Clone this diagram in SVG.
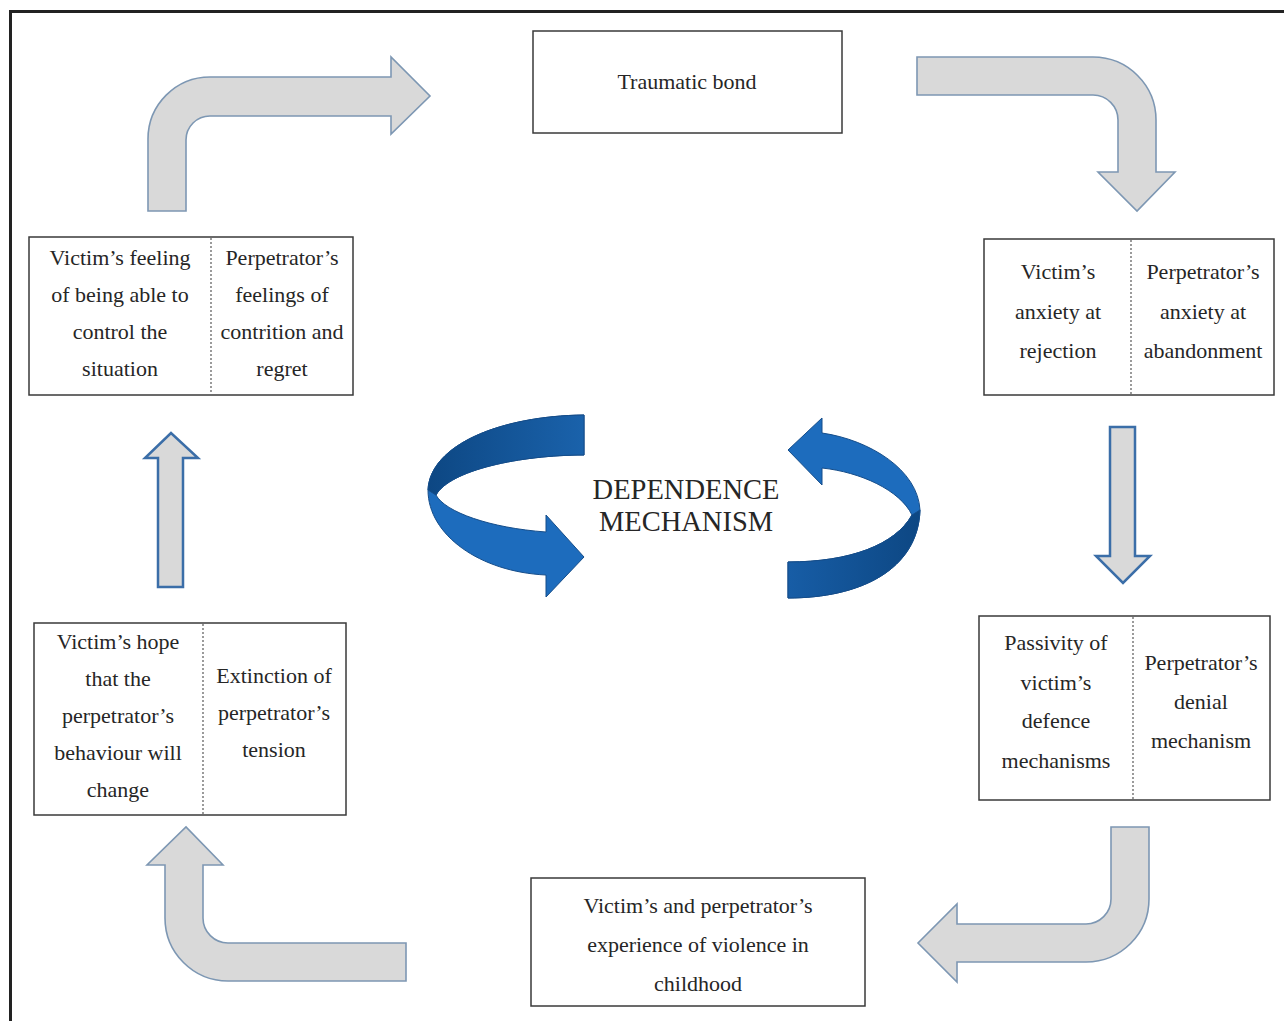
<svg xmlns="http://www.w3.org/2000/svg" width="1284" height="1021" viewBox="0 0 1284 1021">
<defs>
<style>
.t{font-family:"Liberation Serif","Times New Roman",serif;font-size:22px;fill:#262626;text-anchor:middle}
.big{font-size:28.5px}
.box{fill:#fff;stroke:#3a3a3a;stroke-width:1.5}
.div{stroke:#666;stroke-width:1.3;stroke-dasharray:2 2}
.ga{fill:#d9d9d9;stroke:#7d97b3;stroke-width:1.6;stroke-linejoin:miter}
.sa{fill:#d9d9d9;stroke:#3b6ea8;stroke-width:2.5}
.blue{fill:#1d6cbd;stroke:#154d8a;stroke-width:1}
</style>
<linearGradient id="gL" x1="0" y1="0" x2="1" y2="0">
<stop offset="0" stop-color="#0d4783"/>
<stop offset="1" stop-color="#1a62ab"/>
</linearGradient>
<linearGradient id="gR" x1="0" y1="0" x2="1" y2="0">
<stop offset="0" stop-color="#175da6"/>
<stop offset="1" stop-color="#0d4783"/>
</linearGradient>
</defs>
<rect width="1284" height="1021" fill="#fff"/>
<path d="M10.5,1021 L10.5,11.5 L1284,11.5" fill="none" stroke="#222" stroke-width="3"/>

<g id="connectors">
<path class="ga" d="M148,211 L148,139 A62,62 0 0 1 210,77 L391,77 L391,57 L430,96 L391,134 L391,116 L210,116 A24,24 0 0 0 186,140 L186,211 Z"/>
<path class="ga" d="M917,57 L1093,57 A63,63 0 0 1 1156,120 L1156,172 L1175,172 L1137,211 L1098,172 L1118,172 L1118,120 A25,25 0 0 0 1093,95 L917,95 Z"/>
<path class="ga" d="M1111,827 L1149,827 L1149,899 A63,63 0 0 1 1086,962 L957,962 L957,982 L918,943 L957,904 L957,924 L1086,924 A25,25 0 0 0 1111,899 Z"/>
<path class="ga" d="M406,943 L406,981 L228,981 A63,63 0 0 1 165,918 L165,865 L147,865 L186,827 L223,865 L203,865 L203,918 A25,25 0 0 0 228,943 Z"/>
<path class="sa" d="M1110,427 L1135,427 L1135,556 L1150,556 L1123,583 L1096,556 L1110,556 Z"/>
<path class="sa" d="M158,587 L158,458 L145,458 L171,433 L198,458 L183,458 L183,587 Z"/>
</g>

<g id="cycle">
<path class="blue" d="M584,415 C500,416 430,445 428,490 C428,535 480,572 546,575 L546,597 L584,557 L546,515 L546,532 C490,528 445,512 436,495 C450,470 520,455 584,455 Z"/>
<path d="M584,415 C500,416 430,445 428,490 L436,495 C450,470 520,455 584,455 Z" fill="url(#gL)" stroke="#154d8a" stroke-width="1"/>
<path class="blue" d="M788,598 C860,598 918,570 920,510 C918,470 870,440 822,433 L822,418 L788,450 L822,485 L822,468 C860,472 900,490 912,515 C895,545 850,562 788,562 Z"/>
<path d="M788,598 C860,598 918,570 920,510 L912,515 C895,545 850,562 788,562 Z" fill="url(#gR)" stroke="#154d8a" stroke-width="1"/>
<text class="t big" x="686" y="499">DEPENDENCE</text>
<text class="t big" x="686" y="531">MECHANISM</text>
</g>

<g id="n-bond">
<rect class="box" x="533" y="31" width="309" height="102"/>
<text class="t" x="687" y="89">Traumatic bond</text>
</g>

<g id="n-control">
<rect class="box" x="29" y="237" width="324" height="158"/>
<line class="div" x1="211" y1="238" x2="211" y2="394"/>
<text class="t" x="120" y="265">Victim’s feeling</text>
<text class="t" x="120" y="302">of being able to</text>
<text class="t" x="120" y="339">control the</text>
<text class="t" x="120" y="376">situation</text>
<text class="t" x="282" y="265">Perpetrator’s</text>
<text class="t" x="282" y="302">feelings of</text>
<text class="t" x="282" y="339">contrition and</text>
<text class="t" x="282" y="376">regret</text>
</g>

<g id="n-anxiety">
<rect class="box" x="984" y="239" width="290" height="156"/>
<line class="div" x1="1131" y1="240" x2="1131" y2="394"/>
<text class="t" x="1058" y="279">Victim’s</text>
<text class="t" x="1058" y="319">anxiety at</text>
<text class="t" x="1058" y="358">rejection</text>
<text class="t" x="1203" y="279">Perpetrator’s</text>
<text class="t" x="1203" y="319">anxiety at</text>
<text class="t" x="1203" y="358">abandonment</text>
</g>

<g id="n-passivity">
<rect class="box" x="979" y="616" width="291" height="184"/>
<line class="div" x1="1133" y1="617" x2="1133" y2="799"/>
<text class="t" x="1056" y="650">Passivity of</text>
<text class="t" x="1056" y="690">victim’s</text>
<text class="t" x="1056" y="728">defence</text>
<text class="t" x="1056" y="768">mechanisms</text>
<text class="t" x="1201" y="670">Perpetrator’s</text>
<text class="t" x="1201" y="709">denial</text>
<text class="t" x="1201" y="748">mechanism</text>
</g>

<g id="n-childhood">
<rect class="box" x="531" y="878" width="334" height="128"/>
<text class="t" x="698" y="913">Victim’s and perpetrator’s</text>
<text class="t" x="698" y="952">experience of violence in</text>
<text class="t" x="698" y="991">childhood</text>
</g>

<g id="n-hope">
<rect class="box" x="34" y="623" width="312" height="192"/>
<line class="div" x1="203" y1="624" x2="203" y2="814"/>
<text class="t" x="118" y="649">Victim’s hope</text>
<text class="t" x="118" y="686">that the</text>
<text class="t" x="118" y="723">perpetrator’s</text>
<text class="t" x="118" y="760">behaviour will</text>
<text class="t" x="118" y="797">change</text>
<text class="t" x="274" y="683">Extinction of</text>
<text class="t" x="274" y="720">perpetrator’s</text>
<text class="t" x="274" y="757">tension</text>
</g>
</svg>
